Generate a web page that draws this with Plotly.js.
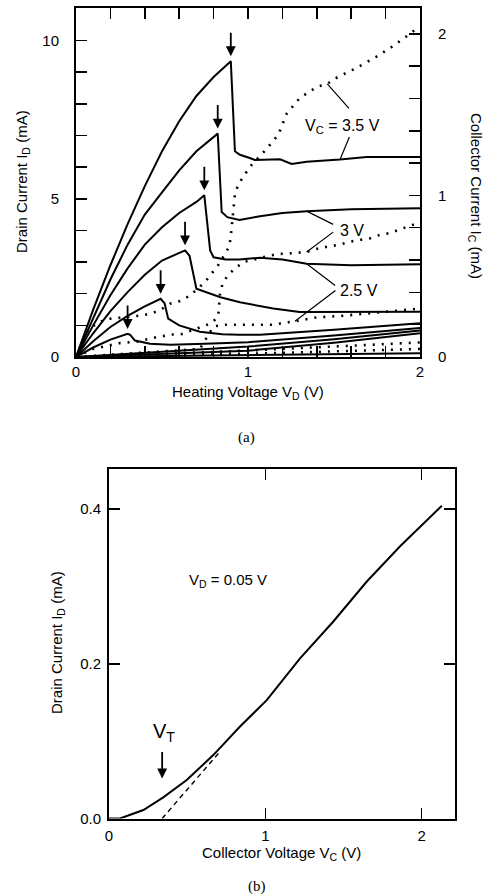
<!DOCTYPE html>
<html>
<head>
<meta charset="utf-8">
<script src="https://cdn.plot.ly/plotly-3.0.1.min.js"></script>
<style>
  html, body { margin: 0; padding: 0; background: #fff; }
  #chart { width: 487px; height: 896px; }
</style>
</head>
<body>
<div id="chart"></div>
<script>
// ---- (a) drain current I_D (solid, left axis) vs heating voltage V_D ----
const vdA = [0, 0.1, 0.2, 0.3, 0.4, 0.5, 0.6, 0.7, 0.8, 0.9, 0.924, 0.953, 1.01, 1.04, 1.186, 1.254, 1.341, 1.535, 1.69, 2.0];
const idA = [0, 1.5, 2.9, 4.2, 5.4, 6.5, 7.45, 8.25, 8.85, 9.35, 6.5, 6.39, 6.29, 6.23, 6.25, 6.1, 6.17, 6.24, 6.32, 6.32];
const vdB = [0, 0.1, 0.2, 0.3, 0.4, 0.5, 0.6, 0.7, 0.824, 0.847, 0.88, 0.95, 1.07, 1.2, 1.341, 1.6, 2.0];
const idB = [0, 1.25, 2.45, 3.55, 4.5, 5.2, 5.9, 6.5, 7.06, 4.58, 4.42, 4.33, 4.45, 4.55, 4.61, 4.67, 4.70];
const vdC = [0, 0.1, 0.2, 0.3, 0.4, 0.5, 0.6, 0.7, 0.746, 0.78, 0.8, 0.87, 0.95, 1.07, 1.2, 1.341, 1.6, 2.0];
const idC = [0, 1.0, 1.95, 2.8, 3.55, 4.1, 4.55, 4.9, 5.11, 3.37, 3.15, 3.08, 3.08, 3.14, 3.08, 2.95, 2.9, 2.93];
const vdD = [0, 0.1, 0.2, 0.3, 0.4, 0.5, 0.634, 0.66, 0.7, 0.84, 0.953, 1.147, 1.3, 1.6, 2.0];
const idD = [0, 0.75, 1.45, 2.05, 2.6, 3.05, 3.37, 3.2, 2.16, 1.89, 1.73, 1.53, 1.42, 1.42, 1.43];
const vdE = [0, 0.1, 0.2, 0.3, 0.4, 0.492, 0.515, 0.536, 0.6, 0.72, 0.85, 0.95, 1.07, 1.5, 2.0];
const idE = [0, 0.5, 0.95, 1.3, 1.6, 1.84, 1.7, 1.21, 1.0, 0.8, 0.72, 0.7, 0.7, 0.86, 1.07];
const vdF = [0, 0.1, 0.2, 0.3, 0.315, 0.343, 0.43, 0.547, 0.75, 1.0, 1.5, 2.0];
const idF = [0, 0.3, 0.55, 0.73, 0.7, 0.52, 0.42, 0.39, 0.42, 0.47, 0.68, 0.92];
const vdG = [0, 0.5, 1.0, 1.5, 2.0];
const idG = [0, 0.16, 0.33, 0.56, 0.84];
const vdH = [0, 0.5, 1.0, 1.5, 2.0];
const idH = [0, 0.1, 0.2, 0.45, 0.75];
const vdJ = [0, 1.0, 2.0];
const idJ = [0, 0.05, 0.12];

// ---- (a) collector current I_C (dotted, right axis) ----
const vdC35 = [0, 0.06, 0.12, 0.19, 0.372, 0.43, 0.488, 0.547, 0.605, 0.663, 0.75, 0.789, 0.827, 0.856, 0.891, 0.9, 0.911, 0.924, 0.944, 0.977, 1.012, 1.099, 1.176, 1.225, 1.302, 1.403, 1.461, 1.516, 1.628, 1.734, 1.841, 1.942, 1.99];
const icC35 = [0, 0.15, 0.21, 0.236, 0.256, 0.267, 0.29, 0.33, 0.346, 0.38, 0.464, 0.517, 0.569, 0.62, 0.683, 0.746, 0.881, 1.01, 1.069, 1.125, 1.179, 1.277, 1.375, 1.506, 1.604, 1.673, 1.69, 1.729, 1.788, 1.85, 1.923, 2.0, 2.04];
const vdC30 = [0, 0.1, 0.256, 0.372, 0.44, 0.498, 0.556, 0.615, 0.74, 0.789, 0.827, 0.833, 0.837, 0.853, 0.886, 0.93, 0.98, 1.1, 1.167, 1.225, 1.28, 1.341, 1.41, 1.467, 1.525, 1.593, 1.71, 1.767, 1.826, 1.884, 1.94, 1.99];
const icC30 = [0, 0.05, 0.086, 0.097, 0.117, 0.128, 0.139, 0.142, 0.19, 0.21, 0.252, 0.32, 0.39, 0.458, 0.51, 0.554, 0.59, 0.62, 0.637, 0.64, 0.646, 0.65, 0.673, 0.683, 0.694, 0.714, 0.735, 0.756, 0.767, 0.79, 0.81, 0.83];
const vdC25 = [0, 0.3, 0.6, 0.72, 0.76, 0.8, 0.87, 1.0, 1.14, 1.273, 1.4, 1.55, 1.7, 1.85, 2.0];
const icC25 = [0, 0.02, 0.04, 0.05, 0.12, 0.19, 0.2, 0.2, 0.2, 0.221, 0.245, 0.255, 0.268, 0.285, 0.3];
const vdLow = [0, 1.0, 2.0];
const icLow1 = [0, 0.04, 0.09];
const icLow2 = [0, 0.02, 0.05];

// ---- (a) tick values ----
const idTicks = [0, 1, 2, 3, 4, 5, 6, 7, 8, 9, 10, 11];
const idTickText = ['0', '', '', '', '', '5', '', '', '', '', '10', ''];
const icTicks = [0, 0.2, 0.4, 0.6, 0.8, 1.0, 1.2, 1.4, 1.6, 1.8, 2.0];
const icTickText = ['0', '', '', '', '', '1', '', '', '', '', '2'];
const vdTicks = [0, 0.2, 0.4, 0.6, 0.8, 1.0, 1.2, 1.4, 1.6, 1.8, 2.0];
const vdTickText = ['0', '', '', '', '', '1', '', '', '', '', '2'];

// ---- (b) drain current vs collector voltage at V_D = 0.05 V ----
const vcB = [0, 0.07, 0.22, 0.347, 0.497, 0.667, 0.838, 1.009, 1.222, 1.435, 1.649, 1.862, 2.129];
const idBplot = [0, 0, 0.011, 0.0274, 0.0498, 0.082, 0.119, 0.153, 0.207, 0.2548, 0.3065, 0.352, 0.4045];
const VT = 0.34;
const vcTangent = [VT, 0.71];
const idTangent = [0, 0.0865];
const vcTicks = [0, 1, 2];
const idbTicks = [0, 0.2, 0.4];
const idbTickText = ['0.0', '0.2', '0.4'];

const W = 487, H = 896;
const px = v => v / W;           // horizontal pixel -> paper
const py = v => 1 - v / H;       // vertical pixel -> paper
const FONT = 'Liberation Sans, Arial, Helvetica, sans-serif';
const SERIF = 'Liberation Serif, Times New Roman, serif';

const solid = (x, y) => ({ x, y, xaxis: 'x', yaxis: 'y', type: 'scatter', mode: 'lines',
  line: { color: '#000', width: 2 }, hoverinfo: 'skip' });
const dotted = (x, y) => ({ x, y, xaxis: 'x', yaxis: 'y2', type: 'scatter', mode: 'lines',
  line: { color: '#000', width: 2.6, dash: '2px,7px' }, hoverinfo: 'skip' });

const idSeries = [[vdA, idA], [vdB, idB], [vdC, idC], [vdD, idD], [vdE, idE], [vdF, idF], [vdG, idG], [vdH, idH], [vdJ, idJ]];
const traces = [
  ...idSeries.map(([x, y]) => solid(x, y)),
  dotted(vdC35, icC35), dotted(vdC30, icC30), dotted(vdC25, icC25),
  dotted(vdLow, icLow1), dotted(vdLow, icLow2),
  { x: vcB, y: idBplot, xaxis: 'x2', yaxis: 'y3', type: 'scatter', mode: 'lines',
    line: { color: '#000', width: 2 }, hoverinfo: 'skip' },
  { x: vcTangent, y: idTangent, xaxis: 'x2', yaxis: 'y3', type: 'scatter', mode: 'lines',
    line: { color: '#000', width: 1.4, dash: '5px,4px' }, hoverinfo: 'skip' }
];

// down arrow above the first peak (start of the current drop) of each peaked curve
const firstPeak = y => {
  for (let i = 1; i < y.length - 1; i++) if (y[i] > y[i - 1] && y[i] > y[i + 1]) return i;
  return y.length - 1;
};
const peakArrows = idSeries.slice(0, 6).map(([x, y]) => {
  const k = firstPeak(y);
  return { x: x[k], y: y[k], xref: 'x', yref: 'y', text: '', showarrow: true,
    arrowhead: 2, arrowsize: 1.1, arrowwidth: 1.8, arrowcolor: '#000',
    ax: 0, ay: -30, standoff: 5 };
});

// leader lines from the V_C labels to their curves
const leader = (x, y, yref, ax, ay) => ({ x, y, xref: 'x', yref, text: '', showarrow: true,
  arrowhead: 0, arrowwidth: 1.2, arrowcolor: '#000', ax, ay });
const leaders = [
  leader(vdC35[26], icC35[26], 'y2', 23, 26),
  leader(vdA[17], idA[17], 'y', 10, -24),
  leader(vdB[14], idB[14], 'y', 28, 14),
  leader(vdC30[21], icC30[21], 'y2', 28, -21),
  leader(vdC[15], idC[15], 'y', 30, 23),
  leader(vdC25[9], icC25[9], 'y2', 42, -32)
];

const txt = (text, x, y, size, extra) => Object.assign({
  text, x: px(x), y: py(y), xref: 'paper', yref: 'paper', showarrow: false,
  xanchor: 'center', yanchor: 'middle', font: { family: FONT, size, color: '#000' }
}, extra || {});

const labels = [
  txt('V<sub>C</sub> = 3.5 V', 342, 126, 16),
  txt('3 V', 352, 230, 16),
  txt('2.5 V', 359, 290, 16),
  txt('Heating Voltage V<sub>D</sub> (V)', 248, 392, 15),
  txt('Drain Current I<sub>D</sub> (mA)', 22, 182, 15, { textangle: -90 }),
  txt('Collector Current I<sub>C</sub> (mA)', 476, 196, 15, { textangle: 90 }),
  txt('(a)', 246, 437, 15, { font: { family: SERIF, size: 15, color: '#000' } }),
  txt('V<sub>D</sub> = 0.05 V', 228, 580, 15),
  txt('Collector Voltage V<sub>C</sub> (V)', 281, 853, 15),
  txt('Drain Current I<sub>D</sub> (mA)', 57, 643, 15, { textangle: -90 }),
  txt('(b)', 257, 886, 15, { font: { family: SERIF, size: 15, color: '#000' } }),
  { x: VT, y: 0, xref: 'x2', yref: 'y3', text: 'V<sub>T</sub>', showarrow: false,
    xanchor: 'center', yanchor: 'middle', xshift: 2, yshift: 86,
    font: { family: FONT, size: 20, color: '#000' } },
  { x: VT, y: 0, xref: 'x2', yref: 'y3', text: '', showarrow: true,
    arrowhead: 2, arrowsize: 1.1, arrowwidth: 1.8, arrowcolor: '#000',
    ax: 0, ay: -68, standoff: 40 }
];

const axisBase = {
  showgrid: false, zeroline: false, showline: true, linecolor: '#000', linewidth: 2,
  ticks: 'inside', ticklen: 11, tickwidth: 1.5, tickcolor: '#000',
  tickfont: { family: FONT, size: 15, color: '#000' }, fixedrange: true
};

const layout = {
  width: W, height: H,
  margin: { l: 0, r: 0, t: 0, b: 0 },
  paper_bgcolor: '#fff', plot_bgcolor: '#fff',
  showlegend: false,
  xaxis: Object.assign({}, axisBase, {
    domain: [px(76), px(420)], range: [0, 2], anchor: 'y', mirror: 'ticks',
    tickmode: 'array', tickvals: vdTicks, ticktext: vdTickText, ticklabelstandoff: 0
  }),
  yaxis: Object.assign({}, axisBase, {
    domain: [py(357), py(8)], range: [0, 11.03], anchor: 'x', mirror: true,
    tickmode: 'array', tickvals: idTicks, ticktext: idTickText, ticklabelstandoff: 12
  }),
  yaxis2: Object.assign({}, axisBase, {
    overlaying: 'y', side: 'right', range: [0, 2.16], anchor: 'x',
    tickmode: 'array', tickvals: icTicks, ticktext: icTickText, ticklabelstandoff: 13
  }),
  xaxis2: Object.assign({}, axisBase, {
    domain: [px(109), px(454.5)], range: [0, 2.21], anchor: 'y3', mirror: 'ticks',
    tickmode: 'array', tickvals: vcTicks, ticktext: vcTicks.map(String), ticklabelstandoff: 2
  }),
  yaxis3: Object.assign({}, axisBase, {
    domain: [py(818.5), py(469)], range: [0, 0.452], anchor: 'x2', mirror: 'ticks',
    tickmode: 'array', tickvals: idbTicks, ticktext: idbTickText, ticklabelstandoff: 3
  }),
  annotations: [...peakArrows, ...leaders, ...labels]
};

Plotly.newPlot('chart', traces, layout, { staticPlot: true, displayModeBar: false });
</script>
</body>
</html>
